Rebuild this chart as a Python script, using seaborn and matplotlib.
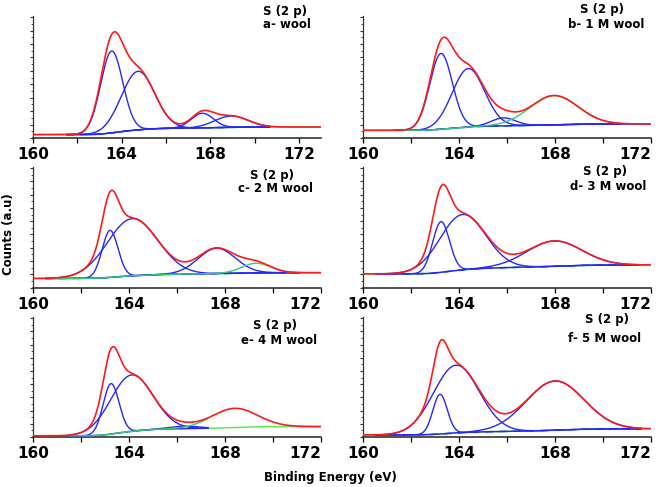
import numpy as np
import pandas as pd
import matplotlib
matplotlib.use("Agg")
import matplotlib.pyplot as plt
import seaborn as sns
from matplotlib.ticker import MultipleLocator

# ---------------- data ----------------
titles = ["a- wool", "b- 1 M wool", "c- 2 M wool", "d- 3 M wool", "e- 4 M wool", "f- 5 M wool"]
x_max = [173, 172, 172, 172, 172, 172]
x_ticks = [160, 164, 168, 172]

# fitted S 2p components: centre (eV), height (a.u., fraction of axis), sigma (eV)
a_centers = [163.55, 164.74, 167.64, 168.95]
a_heights = [0.67, 0.48, 0.12, 0.093]
a_sigmas = [0.50, 0.75, 0.50, 0.75]
a_colors = ["blue", "blue", "blue", "blue"]
a_background = [0.028, 0.090]
a_fit_range = [161.5, 170.7]

b_centers = [163.25, 164.39, 165.85, 167.95]
b_heights = [0.62, 0.48, 0.065, 0.24]
b_sigmas = [0.47, 0.67, 0.50, 1.00]
b_colors = ["blue", "blue", "blue", "green"]
b_background = [0.063, 0.115]
b_fit_range = [161.3, 172.0]

c_centers = [163.21, 164.14, 167.65, 169.30]
c_heights = [0.39, 0.475, 0.21, 0.08]
c_sigmas = [0.33, 1.05, 0.77, 0.60]
c_colors = ["blue", "blue", "blue", "green"]
c_background = [0.075, 0.123]
c_fit_range = [160.5, 171.1]

d_centers = [163.25, 164.15, 167.96]
d_heights = [0.42, 0.46, 0.21]
d_sigmas = [0.35, 0.95, 1.15]
d_colors = ["blue", "blue", "blue"]
d_background = [0.113, 0.187]
d_fit_range = [160.5, 171.5]

e_centers = [163.25, 164.11, 166.30, 168.40]
e_heights = [0.42, 0.47, 0.02, 0.16]
e_sigmas = [0.33, 0.88, 0.60, 0.95]
e_colors = ["blue", "blue", "blue", "green"]
e_background = [0.010, 0.087]
e_fit_range = [161.5, 167.3]

f_centers = [163.21, 163.88, 168.00]
f_heights = [0.33, 0.565, 0.41]
f_sigmas = [0.30, 0.95, 1.20]
f_colors = ["blue", "blue", "blue"]
f_background = [0.017, 0.068]
f_fit_range = [160.5, 171.6]

panels = [
    (a_centers, a_heights, a_sigmas, a_colors, a_background, a_fit_range),
    (b_centers, b_heights, b_sigmas, b_colors, b_background, b_fit_range),
    (c_centers, c_heights, c_sigmas, c_colors, c_background, c_fit_range),
    (d_centers, d_heights, d_sigmas, d_colors, d_background, d_fit_range),
    (e_centers, e_heights, e_sigmas, e_colors, e_background, e_fit_range),
    (f_centers, f_heights, f_sigmas, f_colors, f_background, f_fit_range),
]
dashed_baseline = [True, True, True, True, False, True]

# ---------------- style ----------------
sns.set_style("ticks")
plt.rcParams["font.family"] = ["DejaVu Sans"]
plt.rcParams["font.weight"] = "bold"
plt.rcParams["text.color"] = "black"
plt.rcParams["xtick.color"] = "black"
plt.rcParams["ytick.color"] = "#333333"
plt.rcParams["xtick.labelcolor"] = "black"

RED = "#ff1a1a"
BLUE = "#2626ff"
GREEN = "#55ee55"
col_map = {"blue": BLUE, "green": "#33cc77"}

W, H = 661, 487
fig = plt.figure(figsize=(W / 100, H / 100), dpi=100)


def fx(px):
    return px / W


def fy(py):
    return 1 - py / H


cols = [(33, 321), (363, 651)]
rows = [(16, 138), (167, 287.5), (317, 437)]

for i, (cen, hgt, sig, ccol, bg, frange) in enumerate(panels):
    r, c = divmod(i, 2)
    x0, x1 = cols[c]
    t0, b0 = rows[r]
    ax = fig.add_axes([fx(x0), fy(b0), fx(x1 - x0), (b0 - t0) / H])

    x = np.linspace(160, x_max[i], 800)
    comps = [h * np.exp(-0.5 * ((x - m) / s) ** 2) for m, h, s in zip(cen, hgt, sig)]
    total = np.sum(comps, axis=0)
    cum = np.cumsum(total)
    base = bg[0] + (bg[1] - bg[0]) * cum / cum[-1]
    env = base + total

    mask = (x >= frange[0]) & (x <= frange[1])
    # baseline
    sns.lineplot(x=x, y=base, ax=ax, color=GREEN, lw=1.1, zorder=2)
    if dashed_baseline[i]:
        sns.lineplot(x=x[mask], y=base[mask], ax=ax, color=BLUE, lw=1.1,
                     zorder=3).lines[-1].set_dashes([5, 4])
    # components
    for comp, cc in zip(comps, ccol):
        sns.lineplot(x=x[mask], y=(base + comp)[mask], ax=ax,
                     color=col_map[cc], lw=1.0, zorder=4)
    # envelope
    sns.lineplot(x=x, y=env, ax=ax, color=RED, lw=1.2, zorder=5)

    ax.set_xlim(160, x_max[i])
    ax.set_ylim(0, 1)
    ax.set_xticks(x_ticks)
    ax.set_xticklabels([str(t) for t in x_ticks])
    ax.xaxis.set_minor_locator(MultipleLocator(2))
    ax.yaxis.set_major_locator(MultipleLocator(0.11))
    ax.yaxis.set_minor_locator(MultipleLocator(0.055))
    ax.set_yticklabels([])
    ax.set_xlabel("")
    ax.set_ylabel("")
    for s in ["top", "right"]:
        ax.spines[s].set_visible(False)
    ax.spines["left"].set_color("#333333")
    ax.spines["left"].set_linewidth(0.9)
    ax.spines["bottom"].set_color("#222222")
    ax.spines["bottom"].set_linewidth(1.1)
    ax.tick_params(axis="x", which="both", direction="out", length=3.5, width=0.9,
                   pad=3, labelsize=11)
    ax.tick_params(axis="y", which="major", direction="out", length=2.5, width=0.8)
    ax.tick_params(axis="y", which="minor", direction="out", length=1.5, width=0.6)
    labels = ax.get_xticklabels()
    for lab in labels:
        lab.set_fontweight("bold")
    if x_max[i] == 172:
        labels[-1].set_horizontalalignment("right")

# panel titles (pixel positions of the two lines)
title_pos = [
    ((285, 12), (287, 25)),
    ((602, 10), (606, 25)),
    ((272, 175), (275, 189)),
    ((605, 172), (608, 187)),
    ((275, 325), (279, 340)),
    ((607, 320), (605, 338)),
]
for (p1, p2), t in zip(title_pos, titles):
    fig.text(fx(p1[0]), fy(p1[1]), "S (2 p)", ha="center", va="center",
             fontsize=8.5, fontweight="bold")
    fig.text(fx(p2[0]), fy(p2[1]), t, ha="center", va="center",
             fontsize=8.5, fontweight="bold")

fig.text(fx(9), fy(234), "Counts (a.u)", rotation=90, ha="center", va="center",
         fontsize=8.5, fontweight="bold")
fig.text(fx(330), fy(478), "Binding Energy (eV)", ha="center", va="center",
         fontsize=8.5, fontweight="bold")

fig.savefig("out.png", dpi=100)
